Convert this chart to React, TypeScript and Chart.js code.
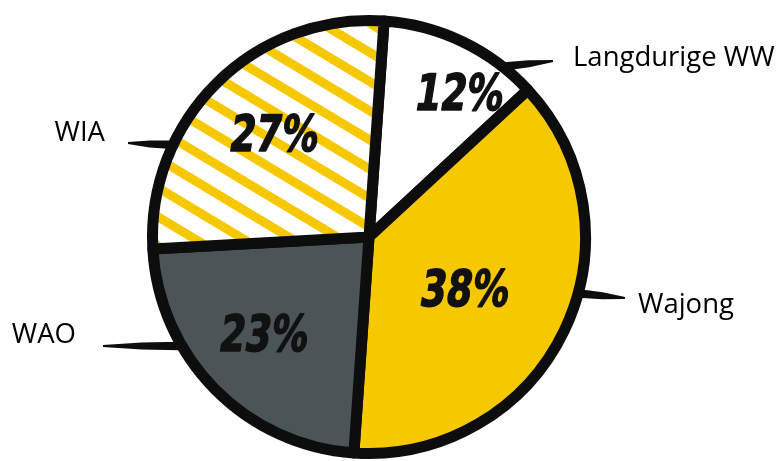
import { useEffect, useRef } from "react";
import { Chart, registerables } from "chart.js";

Chart.register(...registerables);

// ---- data ----
const categories = ["Langdurige WW", "Wajong", "WAO", "WIA"];
const values = [12, 38, 23, 27];
const fills = ["#FFFFFF", "#F5C800", "#4B5456", "hatch"];

// ---- styling / annotation layout ----
const YELLOW = "#F5C800";
const INK = "#0d0d0d";
const ROTATION = 4;
const RADIUS = 216.5;
const BORDER = 11;

// percentage label placement relative to each arc: radial fraction and angle shift (deg)
const PCT_LAYOUT = [
  { frac: 0.775, dAngle: 7 },
  { frac: 0.51, dAngle: 4 },
  { frac: 0.67, dAngle: 1 },
  { frac: 0.635, dAngle: 1 },
];

// outer label leaders: angle on the rim (deg from top), tip point, text anchor
const LEADER_LAYOUT = [
  { angle: 38.5, tipX: 553, tipY: 61, textX: 573, textY: 66, align: "left" },
  { angle: 105, tipX: 625, tipY: 298, textX: 638, textY: 313, align: "left" },
  { angle: 240, tipX: 103, tipY: 346, textX: 76, textY: 343, align: "right" },
  { angle: 295, tipX: 128, tipY: 143, textX: 105, textY: 141, align: "right" },
];

function makeHatch(ctx: CanvasRenderingContext2D): CanvasPattern | string {
  const tile = document.createElement("canvas");
  tile.width = 25;
  tile.height = 25;
  const t = tile.getContext("2d")!;
  t.fillStyle = "#FFFFFF";
  t.fillRect(0, 0, 25, 25);
  t.fillStyle = YELLOW;
  t.fillRect(0, 0, 25, 9);
  const p = ctx.createPattern(tile, "repeat");
  if (!p) return YELLOW;
  try {
    p.setTransform(new DOMMatrix().rotate(31));
  } catch (e) {
    /* ignore */
  }
  return p;
}

const annotationPlugin = {
  id: "pieAnnotations",
  afterDatasetsDraw(chart: any) {
    const ctx: CanvasRenderingContext2D = chart.ctx;
    const meta = chart.getDatasetMeta(0);
    const arcs = meta.data;
    if (!arcs.length) return;
    const cx = arcs[0].x;
    const cy = arcs[0].y;
    const rOuter = arcs[0].outerRadius + BORDER / 2;

    // leaders
    ctx.save();
    ctx.fillStyle = INK;
    LEADER_LAYOUT.forEach((L) => {
      const a = (L.angle * Math.PI) / 180;
      const bx = cx + (rOuter - 4) * Math.sin(a);
      const by = cy - (rOuter - 4) * Math.cos(a);
      const dx = L.tipX - bx;
      const dy = L.tipY - by;
      const len = Math.hypot(dx, dy);
      const nx = -dy / len;
      const ny = dx / len;
      const wb = 8.5;
      const wm = 7;
      const wt = 2.2;
      const mx = bx + dx * 0.5;
      const my = by + dy * 0.5;
      ctx.beginPath();
      ctx.moveTo(bx + (nx * wb) / 2, by + (ny * wb) / 2);
      ctx.lineTo(mx + (nx * wm) / 2, my + (ny * wm) / 2);
      ctx.lineTo(L.tipX + (nx * wt) / 2, L.tipY + (ny * wt) / 2);
      ctx.lineTo(L.tipX - (nx * wt) / 2, L.tipY - (ny * wt) / 2);
      ctx.lineTo(mx - (nx * wm) / 2, my - (ny * wm) / 2);
      ctx.lineTo(bx - (nx * wb) / 2, by - (ny * wb) / 2);
      ctx.closePath();
      ctx.fill();
    });
    ctx.restore();

    // category labels
    ctx.save();
    ctx.fillStyle = "#000000";
    ctx.font = "27.5px 'Open Sans', sans-serif";
    ctx.textBaseline = "alphabetic";
    LEADER_LAYOUT.forEach((L, i) => {
      ctx.textAlign = L.align as CanvasTextAlign;
      ctx.fillText(categories[i], L.textX, L.textY);
    });
    ctx.restore();

    // percentage labels (condensed, slanted marker-like lettering)
    arcs.forEach((arc: any, i: number) => {
      const P = PCT_LAYOUT[i];
      const mid = (arc.startAngle + arc.endAngle) / 2 + (P.dAngle * Math.PI) / 180;
      const r = arc.outerRadius * P.frac;
      const x = arc.x + r * Math.cos(mid);
      const y = arc.y + r * Math.sin(mid);
      ctx.save();
      ctx.translate(x, y);
      ctx.transform(0.74, 0, -0.16, 1, 0, 0);
      ctx.fillStyle = "#111111";
      ctx.strokeStyle = "#111111";
      ctx.lineWidth = 1.6;
      ctx.lineJoin = "round";
      ctx.font = "bold 50px 'DejaVu Sans', sans-serif";
      ctx.textAlign = "center";
      ctx.textBaseline = "middle";
      ctx.fillText(values[i] + "%", 0, 1);
      ctx.strokeText(values[i] + "%", 0, 1);
      ctx.restore();
    });
  },
};

export default function App() {
  const ref = useRef<HTMLCanvasElement>(null);
  useEffect(() => {
    document.body.style.margin = "0";
    const canvas = ref.current!;
    const ctx = canvas.getContext("2d")!;
    const bg = fills.map((f) => (f === "hatch" ? makeHatch(ctx) : f));
    const chart = new Chart(canvas, {
      type: "pie",
      data: {
        labels: categories,
        datasets: [
          {
            data: values,
            backgroundColor: bg as any,
            borderColor: INK,
            borderWidth: BORDER,
            borderAlign: "center",
            borderJoinStyle: "round",
            clip: false as any,
          } as any,
        ],
      },
      options: {
        responsive: false,
        maintainAspectRatio: false,
        animation: false,
        rotation: ROTATION,
        radius: RADIUS,
        layout: { padding: { left: 0, right: 45, top: 13, bottom: 0 } },
        plugins: {
          legend: { display: false },
          tooltip: { enabled: false },
        },
      } as any,
      plugins: [annotationPlugin],
    });
    return () => chart.destroy();
  }, []);
  return (
    <div style={{ width: 783, height: 461, background: "#fff" }}>
      <canvas ref={ref} width={783} height={461} style={{ display: "block" }} />
    </div>
  );
}
